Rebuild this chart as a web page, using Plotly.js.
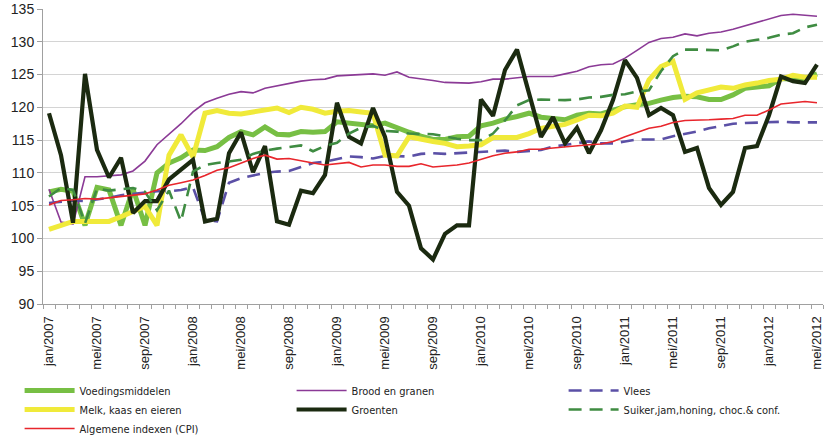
<!DOCTYPE html>
<html><head><meta charset="utf-8">
<script src="https://cdn.plot.ly/plotly-3.0.1.min.js"></script>
<style>html,body{margin:0;padding:0;background:#fff}#chart{width:826px;height:445px}</style>
</head><body><div id="chart"></div>
<script>
const monthNames = ['jan','feb','mrt','apr','mei','jun','jul','aug','sep','okt','nov','dec'];
const years = [2007,2008,2009,2010,2011,2012];
const nMonths = 65;
const tickLabels = ['jan/2007','mei/2007','sep/2007','jan/2008','mei/2008','sep/2008','jan/2009','mei/2009','sep/2009','jan/2010','mei/2010','sep/2010','jan/2011','mei/2011','sep/2011','jan/2012','mei/2012'];

const voedingsmiddelen = [107.1,107.5,107.2,102.0,107.8,107.4,102.0,107.5,102.0,110.0,111.5,112.3,113.5,113.4,114.0,115.4,116.3,115.8,117.0,115.9,115.8,116.3,116.2,116.3,117.8,117.6,117.5,117.2,117.6,116.8,116.2,115.6,115.1,115.1,115.5,115.6,117.2,117.6,118.2,118.6,119.1,118.5,118.3,118.1,118.8,119.1,119.0,119.6,120.1,120.4,120.6,121.1,121.5,121.7,121.6,121.2,121.2,121.9,122.9,123.1,123.3,124.4,124.3,124.4,125.1];
const broodGranen = [107.5,102.5,102.2,109.4,109.4,109.5,109.7,110.3,111.8,114.3,115.9,117.5,119.3,120.7,121.4,122.0,122.4,122.2,122.9,123.3,123.6,124.0,124.2,124.3,124.8,124.9,125.0,125.1,124.9,125.4,124.6,124.4,124.1,123.8,123.7,123.7,123.9,124.3,124.3,124.5,124.7,124.7,124.7,125.1,125.5,126.2,126.5,126.6,127.5,128.7,129.9,130.5,130.7,131.2,130.9,131.3,131.5,131.9,132.4,133.0,133.4,134.0,134.2,134.1,133.9];
const vlees = [105.4,105.6,105.8,105.7,105.9,106.2,106.6,106.8,106.9,107.2,107.2,107.4,107.8,102.8,102.6,108.5,109.2,109.6,110.0,110.2,110.3,110.9,111.5,111.7,112.1,112.5,112.4,112.2,112.6,112.5,112.5,112.9,113.0,112.9,113.0,113.0,113.1,113.2,113.4,113.2,113.4,113.5,114.0,114.3,114.5,114.8,114.5,114.5,114.8,115.1,115.1,115.1,115.6,115.9,116.3,116.8,117.1,117.5,117.6,117.7,117.8,117.8,117.7,117.7,117.7];
const melkKaasEieren = [101.4,102.0,102.6,102.6,102.6,102.6,103.3,104.0,104.9,102.0,112.7,115.8,112.4,119.1,119.5,119.1,119.0,119.3,119.6,119.9,119.2,120.0,119.7,119.1,119.4,119.5,119.3,119.1,112.7,112.6,115.5,115.1,114.8,114.5,114.0,114.1,114.3,115.4,115.4,115.4,116.0,116.8,117.1,117.4,118.1,118.8,118.7,119.1,120.2,120.0,124.2,126.2,127.0,121.2,122.2,122.6,123.1,122.9,123.4,123.7,124.1,124.3,124.9,124.6,124.6];
const groenten = [119.1,112.7,102.4,125.1,113.5,109.3,112.3,103.9,105.7,105.7,109.0,110.5,112.0,102.6,103.0,113.0,116.2,110.1,114.1,102.6,102.1,107.3,106.9,109.7,120.7,115.5,114.5,119.9,115.5,107.1,105.0,98.5,96.8,100.7,102.0,102.0,121.2,118.7,125.7,128.8,122.0,115.5,118.5,114.5,116.9,113.0,116.5,121.1,127.2,124.5,118.8,119.9,118.8,113.2,113.8,107.7,105.1,107.1,113.8,114.1,118.8,124.7,124.0,123.7,126.5];
const suiker = [106.4,107.7,107.4,102.3,107.6,107.3,107.5,107.7,107.1,104.3,107.3,102.6,110.2,111.2,111.5,111.7,112.0,112.9,113.4,113.7,114.0,114.2,113.3,114.1,114.6,116.0,116.9,117.2,116.4,116.3,116.0,116.0,115.9,115.6,115.2,115.0,115.0,116.0,118.0,120.3,121.1,121.2,121.1,121.1,121.2,121.5,121.6,121.9,122.0,122.4,122.6,125.5,127.8,128.8,128.8,128.7,128.7,129.3,130.0,130.3,130.6,131.1,131.3,132.2,132.6];
const cpi = [105.1,105.8,105.9,106.1,106.0,106.2,106.3,106.6,106.8,107.4,108.1,108.5,108.9,109.6,110.4,110.8,111.5,112.2,112.7,112.1,112.2,111.8,111.5,111.2,111.4,111.6,110.9,111.2,111.2,111.0,111.0,111.4,110.9,111.0,111.2,111.5,112.1,112.6,113.0,113.2,113.6,113.6,113.8,114.0,114.1,114.3,114.4,114.8,115.5,116.2,116.8,117.1,117.7,118.0,118.0,118.1,118.2,118.3,118.8,118.8,119.6,120.5,120.7,120.9,120.7];

const categories = [];
for (const y of years) for (const m of monthNames) if (categories.length < nMonths) categories.push(m + '/' + y);
const tickText = categories.map(c => tickLabels.includes(c) ? c : '');

// legend column = legend group
const series = [
  {name:'Voedingsmiddelen', y:voedingsmiddelen, color:'#77bf44', width:5, dash:'solid', col:'c1'},
  {name:'Brood en granen', y:broodGranen, color:'#8b3a96', width:1.6, dash:'solid', col:'c2'},
  {name:'Vlees', y:vlees, color:'#5b50a6', width:2.6, dash:'13px,8px', col:'c3'},
  {name:'Melk, kaas en eieren', y:melkKaasEieren, color:'#f0ea3a', width:5, dash:'solid', col:'c1'},
  {name:'Groenten', y:groenten, color:'#1b2a10', width:4.2, dash:'solid', col:'c2'},
  {name:'Suiker,jam,honing, choc.& conf.', y:suiker, color:'#3f8c42', width:2.6, dash:'13px,8px', col:'c3'},
  {name:'Algemene indexen (CPI)', y:cpi, color:'#e8262c', width:1.6, dash:'solid', col:'c1'}
];

const traces = series.map(s => ({
  type:'scatter', mode:'lines', x:categories, y:s.y, name:s.name, legendgroup:s.col,
  line:{color:s.color, width:s.width, dash:s.dash}
}));

const layout = {
  width:826, height:445,
  margin:{l:43, r:3, t:9, b:141, autoexpand:false},
  paper_bgcolor:'#ffffff', plot_bgcolor:'#ffffff',
  font:{family:'Liberation Sans, Arial, sans-serif', color:'#222', size:13},
  showlegend:true,
  legend:{orientation:'h', x:-0.03, xanchor:'left', y:-0.244, yanchor:'top',
    entrywidth:207, itemwidth:50, traceorder:'grouped', tracegroupgap:0,
    font:{family:'Liberation Sans Narrow, Arial Narrow, DejaVu Sans Condensed, Liberation Sans, sans-serif', size:11, color:'#222'},
    bgcolor:'rgba(0,0,0,0)'},
  xaxis:{type:'category', categoryorder:'array', categoryarray:categories,
    range:[-0.5, nMonths-0.5], tickmode:'array', tickvals:categories, ticktext:tickText,
    tickson:'boundaries', ticks:'outside', ticklen:4, tickcolor:'#a0a0a0', tickwidth:1,
    showgrid:false, showline:true, linecolor:'#a0a0a0', linewidth:1,
    tickangle:-90, tickfont:{size:13, color:'#222'}, ticklabelstandoff:6, zeroline:false},
  yaxis:{range:[90,135], tickmode:'linear', tick0:90, dtick:5,
    showgrid:true, gridcolor:'#d4d4d4', gridwidth:1.2,
    showline:true, linecolor:'#a0a0a0', linewidth:1,
    ticks:'outside', ticklen:5, tickcolor:'#a0a0a0',
    tickfont:{size:14, color:'#222'}, zeroline:false}
};

Plotly.newPlot('chart', traces, layout, {displayModeBar:false, staticPlot:true});
</script>
</body></html>
